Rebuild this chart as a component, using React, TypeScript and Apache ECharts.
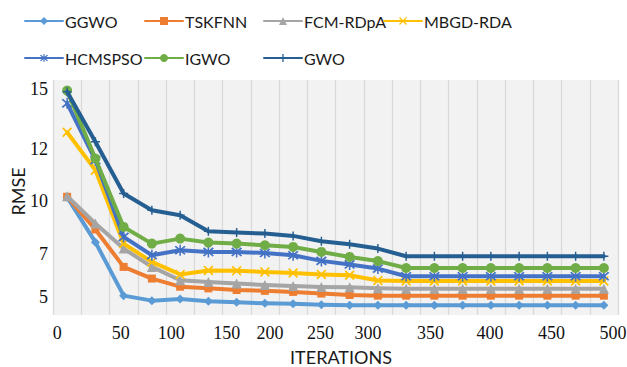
import React, { useEffect, useRef } from 'react';
import * as echarts from 'echarts';

// ---- data ----
const seriesNames = ['GGWO', 'TSKFNN', 'FCM-RDpA', 'MBGD-RDA', 'HCMSPSO', 'IGWO', 'GWO'];
const xTickLabels = ['0', '', '50', '', '100', '', '150', '200', '', '250', '', '300', '', '350', '', '400', '', '450', '', '500'];
const yTickLabels = [5, 7, 10, 12, 15];
const yTickAt = [5, 7.06, 9.61, 12.11, 15];

const ggwo = [9.8, 7.64, 5.07, 4.83, 4.91, 4.8, 4.75, 4.7, 4.68, 4.63, 4.61, 4.61, 4.61, 4.61, 4.61, 4.61, 4.61, 4.61, 4.61, 4.61];
const tskfnn = [9.82, 8.25, 6.45, 5.89, 5.5, 5.42, 5.34, 5.3, 5.25, 5.17, 5.1, 5.07, 5.07, 5.07, 5.07, 5.07, 5.07, 5.07, 5.07, 5.07];
const fcmRdpa = [9.85, 8.54, 7.33, 6.45, 5.81, 5.73, 5.65, 5.58, 5.53, 5.49, 5.47, 5.42, 5.4, 5.4, 5.4, 5.4, 5.4, 5.4, 5.4, 5.4];
const mbgdRda = [12.92, 11.1, 7.57, 6.69, 6.09, 6.28, 6.26, 6.21, 6.16, 6.09, 6.05, 5.8, 5.77, 5.77, 5.77, 5.77, 5.77, 5.77, 5.77, 5.77];
const hcmspso = [14.31, 11.58, 7.89, 7.01, 7.25, 7.17, 7.17, 7.12, 7.01, 6.74, 6.57, 6.37, 6.0, 6.0, 6.0, 6.0, 6.0, 6.0, 6.0, 6.0];
const igwo = [14.92, 11.66, 8.37, 7.57, 7.81, 7.62, 7.57, 7.49, 7.41, 7.17, 6.93, 6.73, 6.4, 6.4, 6.4, 6.4, 6.4, 6.4, 6.4, 6.4];
const gwo = [14.87, 12.46, 9.98, 9.17, 8.93, 8.16, 8.1, 8.05, 7.94, 7.68, 7.54, 7.33, 6.96, 6.96, 6.96, 6.96, 6.96, 6.96, 6.96, 6.96];

const seriesValues = [ggwo, tskfnn, fcmRdpa, mbgdRda, hcmspso, igwo, gwo];

// ---- styles ----
const colors = ['#5B9BD5', '#ED7D31', '#A5A5A5', '#FFC000', '#4472C4', '#70AD47', '#255E91'];
const X_PATH = 'path://M0,1.2L1.2,0L10,8.8L8.8,10Z M8.8,0L10,1.2L1.2,10L0,8.8Z';
const STAR_PATH = 'path://M0,1.2L1.2,0L10,8.8L8.8,10Z M8.8,0L10,1.2L1.2,10L0,8.8Z M4.3,-1H5.7V11H4.3Z';
const PLUS_PATH = 'path://M4.2,0H5.8V10H4.2Z M0,4.2H10V5.8H0Z';
const symbols = ['diamond', 'rect', 'triangle', X_PATH, STAR_PATH, 'circle', PLUS_PATH];
const symbolSizes = [9, 8, 10, 10, 11, 10, 9];
const legendLeft = [24, 144, 263, 383, 24, 144, 263];
const legendTop = [13, 13, 13, 13, 50, 50, 50];
const xLabelShift = [-10, 0, -3, 0, -9, 0, -10, 5, 0, -1, 0, -10, 0, -4, 0, -1, 0, 4, 0, 9];

const SERIF = 'Liberation Serif';
const SANS = 'Lato';

export default function App() {
  const ref = useRef<HTMLDivElement>(null);

  useEffect(() => {
    if (!ref.current) return;
    const chart = echarts.init(ref.current, undefined, { renderer: 'svg' });

    const rich: Record<string, any> = {};
    xLabelShift.forEach((s, i) => {
      rich['s' + i] = {
        fontFamily: SERIF,
        fontSize: 18,
        color: '#111',
        padding: s < 0 ? [0, -2 * s, 0, 0] : [0, 0, 0, 2 * s],
      };
    });

    chart.setOption({
      animation: false,
      backgroundColor: '#ffffff',
      grid: {
        left: 53,
        right: 9,
        top: 80,
        bottom: 52,
        show: true,
        backgroundColor: '#f2f2f2',
        borderWidth: 0,
        containLabel: false,
        outerBoundsMode: 'none',
      },
      legend: seriesNames.map((name, k) => ({
        data: [name],
        left: legendLeft[k],
        top: legendTop[k],
        padding: 0,
        itemWidth: 38,
        itemHeight: 10,
        selectedMode: false,
        textStyle: { fontFamily: SANS, fontSize: 16, color: '#1a1a1a', padding: [0, 0, 0, -3] },
      })),
      xAxis: {
        type: 'category',
        data: xTickLabels,
        boundaryGap: true,
        name: 'ITERATIONS',
        nameLocation: 'middle',
        nameGap: 33,
        nameMoveOverlap: false,
        nameTextStyle: { fontFamily: SANS, fontSize: 18, color: '#1a1a1a', padding: [0, 0, 0, 11] },
        axisLine: { show: false },
        axisTick: { show: false },
        axisLabel: {
          interval: 0,
          margin: 9,
          hideOverlap: false,
          fontFamily: SERIF,
          fontSize: 18,
          color: '#111',
          formatter: (v: string, i: number) => (v ? `{s${i}|${v}}` : ''),
          rich,
        },
        splitLine: { show: true, interval: 0, lineStyle: { color: '#d9d9d9', width: 1.3 } },
      },
      yAxis: {
        type: 'value',
        min: 4.14,
        max: 15.43,
        name: 'RMSE',
        nameLocation: 'middle',
        nameGap: 26,
        nameMoveOverlap: false,
        nameTextStyle: { fontFamily: SANS, fontSize: 18, color: '#1a1a1a', padding: [0, 0, 0, 12] },
        axisLine: { show: false },
        axisTick: { show: false },
        splitLine: { show: false },
        axisLabel: {
          customValues: yTickAt,
          margin: 5,
          fontFamily: SERIF,
          fontSize: 18,
          color: '#111',
          formatter: (v: number) => {
            const k = yTickAt.findIndex((t) => Math.abs(t - v) < 1e-6);
            return k >= 0 ? String(yTickLabels[k]) : '';
          },
        },
      },
      series: seriesNames.map((name, k) => ({
        name,
        type: 'line',
        data: seriesValues[k],
        symbol: symbols[k],
        symbolSize: symbolSizes[k],
        showAllSymbol: true,
        lineStyle: { color: colors[k], width: 4, join: 'round', cap: 'round' },
        itemStyle: { color: colors[k], borderWidth: 0 },
        emphasis: { disabled: true },
        z: 2 + k,
      })),
    });

    return () => chart.dispose();
  }, []);

  return (
    <div
      ref={ref}
      style={{ position: 'fixed', left: 0, top: 0, width: 627, height: 367, background: '#fff' }}
    />
  );
}
